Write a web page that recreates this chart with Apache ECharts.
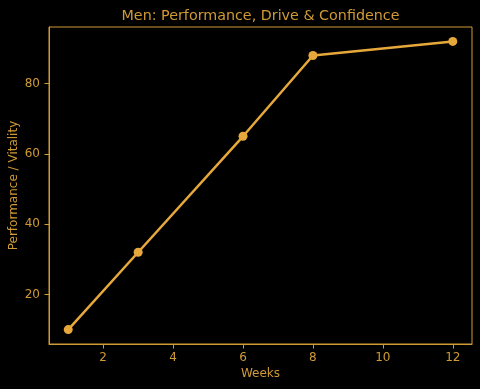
<!DOCTYPE html>
<html>
<head>
<meta charset="utf-8">
<script src="https://cdn.jsdelivr.net/npm/echarts@6/dist/echarts.min.js"></script>
<style>html,body{margin:0;padding:0;background:#000;}#c{width:480px;height:389px;}</style>
</head>
<body>
<div id="c"></div>
<script>
const weeks = [1, 3, 6, 8, 12];
const performance = [10, 32, 65, 88, 92];
const xTicks = [2, 4, 6, 8, 10, 12];
const yTicks = [20, 40, 60, 80];

const textColor = '#D09A35';
const lineColor = '#E6A83A';
const font = 'DejaVu Sans';

const chart = echarts.init(document.getElementById('c'), null, {renderer: 'canvas'});
chart.setOption({
  backgroundColor: '#000',
  animation: false,
  title: {
    text: 'Men: Performance, Drive & Confidence',
    left: 260.5, textAlign: 'center', top: 9.5, padding: 0,
    textStyle: {color: textColor, fontFamily: font, fontSize: 14.3, fontWeight: 'normal'}
  },
  grid: {left: 49, right: 8, top: 27, bottom: 45, outerBoundsMode: 'none', containLabel: false,
    show: true, borderColor: textColor, borderWidth: 1, backgroundColor: '#000'},
  xAxis: {
    type: 'value', min: 0.45, max: 12.55,
    name: 'Weeks', nameLocation: 'middle', nameGap: 24, nameMoveOverlap: false,
    nameTextStyle: {color: textColor, fontFamily: font, fontSize: 12},
    axisLine: {show: true, lineStyle: {color: textColor, width: 1}},
    axisTick: {show: true, length: 4.5, lineStyle: {color: textColor}, customValues: xTicks},
    axisLabel: {color: textColor, fontFamily: font, fontSize: 12, margin: 8, customValues: xTicks},
    splitLine: {show: false}
  },
  yAxis: {
    type: 'value', min: 5.9, max: 96.1,
    name: 'Performance / Vitality', nameLocation: 'middle', nameGap: 29, nameMoveOverlap: false,
    nameTextStyle: {color: textColor, fontFamily: font, fontSize: 12},
    axisLine: {show: true, lineStyle: {color: textColor, width: 1}},
    axisTick: {show: true, length: 4.5, lineStyle: {color: textColor}, customValues: yTicks},
    axisLabel: {color: textColor, fontFamily: font, fontSize: 12, margin: 9, customValues: yTicks},
    splitLine: {show: false}
  },
  series: [{
    type: 'line',
    data: weeks.map((w, i) => [w, performance[i]]),
    symbol: 'circle', symbolSize: 9,
    lineStyle: {color: lineColor, width: 2.5},
    itemStyle: {color: lineColor}
  }]
});
</script>
</body>
</html>
